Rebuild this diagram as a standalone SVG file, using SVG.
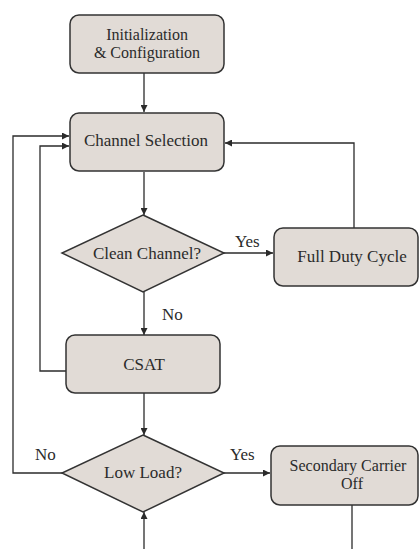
<svg xmlns="http://www.w3.org/2000/svg" width="419" height="549" viewBox="0 0 419 549">
<defs>
<marker id="ah" viewBox="0 0 10 10" refX="10" refY="5" markerWidth="7" markerHeight="7" markerUnits="userSpaceOnUse" orient="auto">
<path d="M0,0 L10,5 L0,10 z" fill="#2b2b2b"/>
</marker>
<style>
.box{fill:#e1dbd6;stroke:#333;stroke-width:1.5}
.t{font-family:"Liberation Serif","DejaVu Serif",serif;font-size:17px;fill:#2b2b2b;text-anchor:middle}
.t2{font-size:16px}
.l{font-family:"Liberation Serif","DejaVu Serif",serif;font-size:17px;fill:#2b2b2b}
.c{fill:none;stroke:#2b2b2b;stroke-width:1.3}
</style>
</defs>
<rect width="419" height="549" fill="#fff"/>
<g id="connectors">
<path class="c" d="M144,73 V112" marker-end="url(#ah)"/>
<path class="c" d="M144,172 V215" marker-end="url(#ah)"/>
<path class="c" d="M224,253 H273" marker-end="url(#ah)"/>
<path class="c" d="M354,228 V143 H225" marker-end="url(#ah)"/>
<path class="c" d="M144,292 V335" marker-end="url(#ah)"/>
<path class="c" d="M66,371 H40 V146 H69" marker-end="url(#ah)"/>
<path class="c" d="M144,393 V435" marker-end="url(#ah)"/>
<path class="c" d="M62,473 H13 V136 H69" marker-end="url(#ah)"/>
<path class="c" d="M224,473 H270" marker-end="url(#ah)"/>
<path class="c" d="M352,505 V549"/>
<path class="c" d="M144,549 V512" marker-end="url(#ah)"/>
</g>
<g id="init">
<rect class="box" x="70" y="15" width="154" height="58" rx="9"/>
<text class="t t2" x="147" y="40">Initialization</text>
<text class="t t2" x="147" y="58">&amp; Configuration</text>
</g>
<g id="channel-selection">
<rect class="box" x="70" y="113" width="154" height="58" rx="9"/>
<text class="t" x="146" y="146">Channel Selection</text>
</g>
<g id="clean-channel">
<polygon class="box" points="143,215 224,253 143,292 62,253"/>
<text class="t" x="147" y="259">Clean Channel?</text>
</g>
<g id="full-duty">
<rect class="box" x="274" y="228" width="144" height="58" rx="9"/>
<text class="t" x="352" y="262">Full Duty Cycle</text>
</g>
<g id="csat">
<rect class="box" x="66" y="335" width="154" height="58" rx="9"/>
<text class="t" x="144" y="370">CSAT</text>
</g>
<g id="low-load">
<polygon class="box" points="143,435 224,473 143,512 62,473"/>
<text class="t" x="143" y="478">Low Load?</text>
</g>
<g id="secondary-off">
<rect class="box" x="271" y="446" width="147" height="59" rx="9"/>
<text class="t t2" x="348" y="471">Secondary Carrier</text>
<text class="t t2" x="352" y="489">Off</text>
</g>
<g id="labels">
<text class="l" x="235" y="247">Yes</text>
<text class="l" x="162" y="320">No</text>
<text class="l" x="35" y="460">No</text>
<text class="l" x="230" y="460">Yes</text>
</g>
</svg>
